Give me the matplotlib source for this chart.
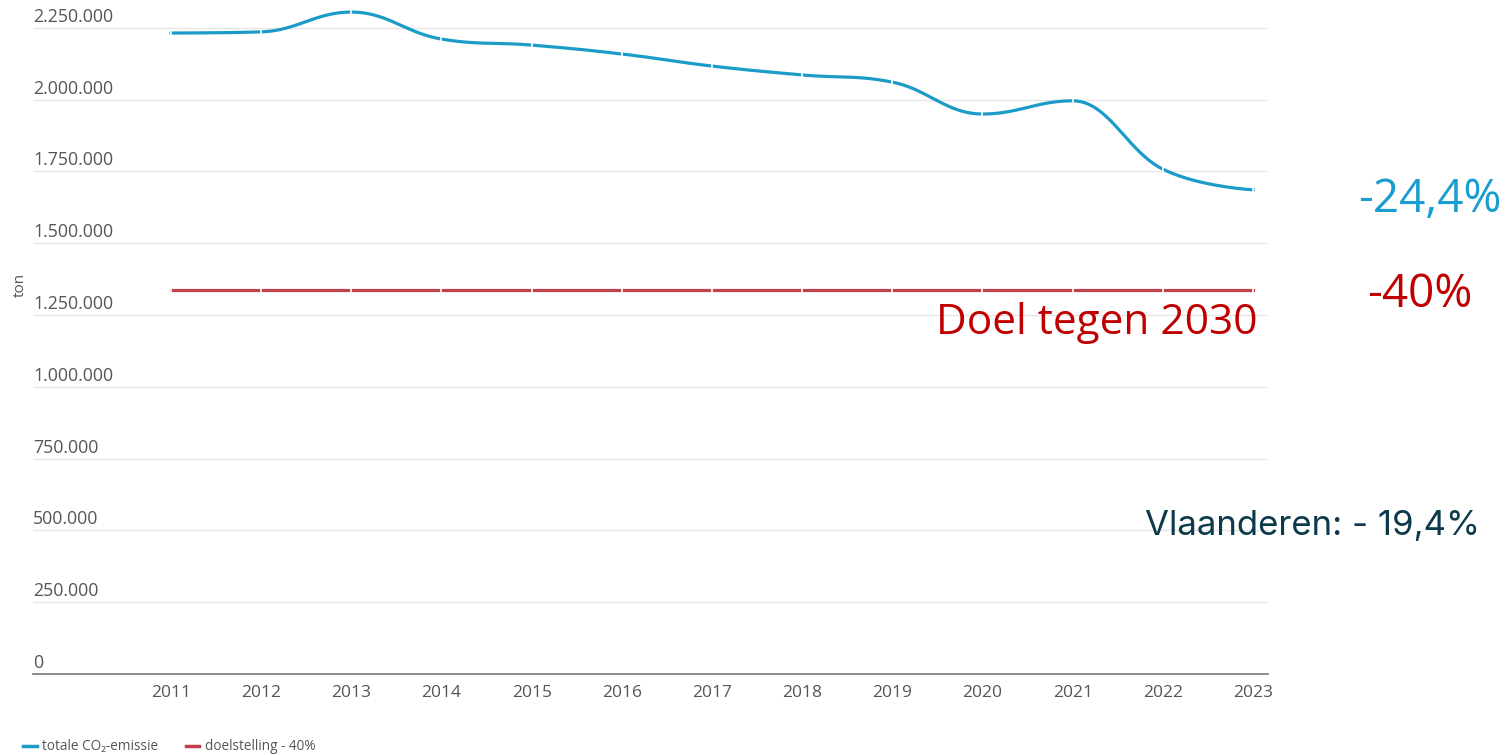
import matplotlib

matplotlib.use("Agg")
import matplotlib.pyplot as plt
import numpy as np
from matplotlib.lines import Line2D

plt.rcParams["font.family"] = ["Open Sans", "DejaVu Sans"]

YEARS = np.arange(2011, 2024)
EMISSIE = [2232000, 2236000, 2305000, 2211000, 2190000, 2159000, 2117000,
           2086000, 2061000, 1950000, 1996000, 1758000, 1686000]
DOEL = [1337000] * len(YEARS)
Y_TICKS = [0, 250000, 500000, 750000, 1000000, 1250000, 1500000, 1750000, 2000000, 2250000]

BLUE = "#1b9bc8"
RED_LINE = "#c2414f"
RED_TEXT = "#c00000"
DARK = "#0c3a4b"


def fmt(v):
    return f"{v:,}".replace(",", ".")


def spline(x, y, n=40):
    # highcharts-like bezier spline through the points
    x = np.asarray(x, float)
    y = np.asarray(y, float)
    k = len(x)
    left = [(x[0], y[0])]
    right = []
    for i in range(k):
        if i == 0 or i == k - 1:
            right.append((x[i], y[i]))
            if i > 0:
                left.append((x[i], y[i]))
            continue
        lx = (1.5 * x[i] + x[i - 1]) / 2.5
        ly = (1.5 * y[i] + y[i - 1]) / 2.5
        rx = (1.5 * x[i] + x[i + 1]) / 2.5
        ry = (1.5 * y[i] + y[i + 1]) / 2.5
        slope = (ry - ly) / (rx - lx)
        corr = ly + (x[i] - lx) * slope - y[i]
        ly -= corr
        ry -= corr
        lo, hi = min(y[i - 1], y[i]), max(y[i - 1], y[i])
        if ly > hi:
            ly = hi
            ry = 2 * y[i] - ly
        elif ly < lo:
            ly = lo
            ry = 2 * y[i] - ly
        lo, hi = min(y[i + 1], y[i]), max(y[i + 1], y[i])
        if ry > hi:
            ry = hi
            ly = 2 * y[i] - ry
        elif ry < lo:
            ry = lo
            ly = 2 * y[i] - ry
        left.append((lx, ly))
        right.append((rx, ry))
    xs, ys = [], []
    t = np.linspace(0, 1, n)
    for i in range(k - 1):
        p0 = np.array([x[i], y[i]])
        p1 = np.array(right[i])
        p2 = np.array(left[i + 1])
        p3 = np.array([x[i + 1], y[i + 1]])
        b = ((1 - t) ** 3)[:, None] * p0 + (3 * (1 - t) ** 2 * t)[:, None] * p1 \
            + (3 * (1 - t) * t ** 2)[:, None] * p2 + (t ** 3)[:, None] * p3
        xs.extend(b[:, 0])
        ys.extend(b[:, 1])
    return np.array(xs), np.array(ys)


fig = plt.figure(figsize=(15.12, 7.55), dpi=100)
ax = fig.add_axes([33 / 1512, 1 - 674 / 755, (1268 - 33) / 1512, 674 / 755])

for v in Y_TICKS[1:]:
    ax.axhline(v, color="#e6e6e6", linewidth=1.0, zorder=0)

sx, sy = spline(YEARS, EMISSIE)
ax.plot(sx, sy, color=BLUE, linewidth=2.3, zorder=3)
ax.plot(YEARS, EMISSIE, linestyle="none", marker="|", color="white", markersize=4, mew=1.2, zorder=4)
ax.plot(YEARS, DOEL, color=RED_LINE, linewidth=2.3, zorder=3)
ax.plot(YEARS, DOEL, linestyle="none", marker="|", color="white", markersize=4, mew=1.2, zorder=4)

ax.set_xlim(2011 - 138 / 90.17, 2023 + 15 / 90.17)
ax.set_ylim(0, 2347000)
ax.set_xticks(YEARS)
ax.set_xticklabels([str(y) for y in YEARS], fontsize=12.5, color="#555555")
ax.tick_params(axis="x", length=0, pad=8)
ax.set_yticks([])
for s in ["top", "right", "left"]:
    ax.spines[s].set_visible(False)
ax.spines["bottom"].set_color("#777777")
ax.spines["bottom"].set_linewidth(1.2)

for v in Y_TICKS:
    ax.annotate(fmt(v), xy=(0, v), xycoords=("axes fraction", "data"),
                xytext=(0, 1.5), textcoords="offset points",
                ha="left", va="bottom", fontsize=12.8, color="#555555")

fig.text(20 / 1512, 1 - 285 / 755, "ton", rotation=90, ha="center", va="center",
         fontsize=11, color="#555555")

fig.text(1502 / 1512, 1 - 200 / 755, "-24,4%", ha="right", va="center",
         fontsize=33, color="#1a9dd0")
fig.text(1472 / 1512, 1 - 295 / 755, "-40%", ha="right", va="center",
         fontsize=33, color=RED_TEXT)
fig.text(1258 / 1512, 1 - 323 / 755, "Doel tegen 2030", ha="right", va="center",
         fontsize=30.5, color=RED_TEXT)
fig.text(1480 / 1512, 1 - 526 / 755, "Vlaanderen: - 19,4%", ha="right", va="center",
         fontsize=25, color=DARK, family=["Inter", "DejaVu Sans"])

handles = [Line2D([], [], color=BLUE, linewidth=2.5),
           Line2D([], [], color=RED_LINE, linewidth=2.5)]
fig.legend(handles, ["totale CO\u2082-emissie", "doelstelling - 40%"],
           loc="center left", bbox_to_anchor=(18 / 1512, 1 - 747 / 755), ncol=2,
           frameon=False, fontsize=9.8, handlelength=1.0, handletextpad=0.4,
           columnspacing=2.0, labelcolor="#555555", borderaxespad=0)

fig.savefig("out.png", dpi=100)
